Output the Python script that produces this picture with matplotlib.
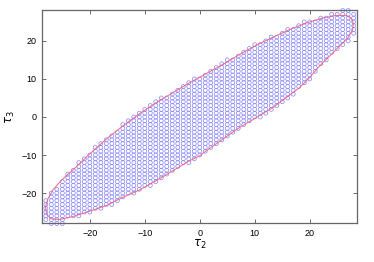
import numpy as np
import matplotlib
matplotlib.use("Agg")
import matplotlib.pyplot as plt

plt.rcParams['font.family'] = ['Liberation Sans', 'DejaVu Sans']

# grid columns (integer tau2) and the tau3 range of blue points in each column
col_tau2 = list(range(-28, 29))
col_top = [-22, -20, -19, -17, -15, -14, -12, -11, -10, -8, -7, -6, -5, -4, -2, -1, 0, 1, 2, 3,
           4, 5, 5, 6, 7, 8, 9, 10, 10, 11, 12, 13, 14, 15, 15, 16, 17, 18, 19, 19,
           20, 21, 21, 22, 23, 23, 24, 25, 25, 25, 26, 26, 27, 27, 28, 28, 27]
col_bottom = [-27, -28, -28, -28, -26, -26, -26, -25, -25, -24, -24, -23, -23, -22, -21, -20, -20, -19, -18, -18,
              -17, -16, -15, -14, -13, -12, -12, -11, -10, -9, -8, -7, -6, -5, -4, -3, -2, -1, 0, 0,
              1, 2, 3, 4, 5, 6, 8, 9, 10, 12, 14, 15, 17, 18, 19, 20, 22]

# red boundary curve (closed loop)
curve_tau2 = [-28.06, -27.64, -26.73, -25.52, -24.30, -23.09, -20.06, -17.03, -14.00, -10.97, -7.94, -4.91,
              -1.88, 0.00, 4.18, 7.21, 10.24, 13.27, 16.30, 19.33, 22.36, 24.79, 26.61, 27.52, 27.94,
              27.82, 26.91, 25.39, 23.58, 21.76, 19.94, 18.12, 15.70, 13.27, 10.24, 7.21, 4.18, 1.15,
              0.00, -1.88, -4.91, -7.94, -10.97, -14.00, -17.03, -20.06, -23.09, -25.52, -27.03, -27.82, -28.06]
curve_tau3 = [-23.73, -21.55, -19.20, -17.19, -15.45, -13.96, -9.77, -5.85, -2.36, 0.87, 3.75, 6.37,
              8.99, 10.47, 13.79, 16.40, 18.85, 20.94, 22.95, 24.69, 26.00, 26.70, 26.70, 26.00, 24.69,
              22.95, 20.77, 18.59, 15.97, 13.35, 10.30, 7.68, 5.06, 2.44, -0.17, -2.79, -5.85, -8.90,
              -10.21, -11.52, -14.14, -16.75, -19.20, -21.12, -23.30, -24.78, -26.18, -26.96, -26.79, -25.65, -23.73]

xticks = [-20, -10, 0, 10, 20]
yticks = [-20, -10, 0, 10, 20]

# expand the columns into points
pts_x, pts_y = [], []
for t2, lo, hi in zip(col_tau2, col_bottom, col_top):
    for t3 in range(lo, hi + 1):
        pts_x.append(t2)
        pts_y.append(t3)

fig = plt.figure(figsize = (3.74, 2.62), dpi = 100)
ax = fig.add_axes([0.1123, 0.147, 0.8422, 0.813])

ax.scatter(pts_x, pts_y, s = 8, facecolors = 'none', edgecolors = '#8585ff',
           linewidths = 0.5, clip_on = False, zorder = 2)
ax.plot(curve_tau2, curve_tau3, color = '#f06078', lw = 0.8, alpha = 0.85, zorder = 3, clip_on = False)

ax.set_xlim(-28.7, 28.6)
ax.set_ylim(-28, 28)
ax.set_xticks(xticks)
ax.set_yticks(yticks)
ax.tick_params(direction = 'in', top = True, right = True, length = 3, width = 0.6,
               labelsize = 6.5, colors = '#555555', labelcolor = 'black', pad = 4)
for sp in ax.spines.values():
    sp.set_color('#666666')
    sp.set_linewidth(0.9)

ax.set_xlabel(r'$\tau_2$', fontsize = 8.5, labelpad = 0)
ax.set_ylabel(r'$\tau_3$', fontsize = 8.5, labelpad = 3)

fig.savefig('out.png', dpi = 100)
